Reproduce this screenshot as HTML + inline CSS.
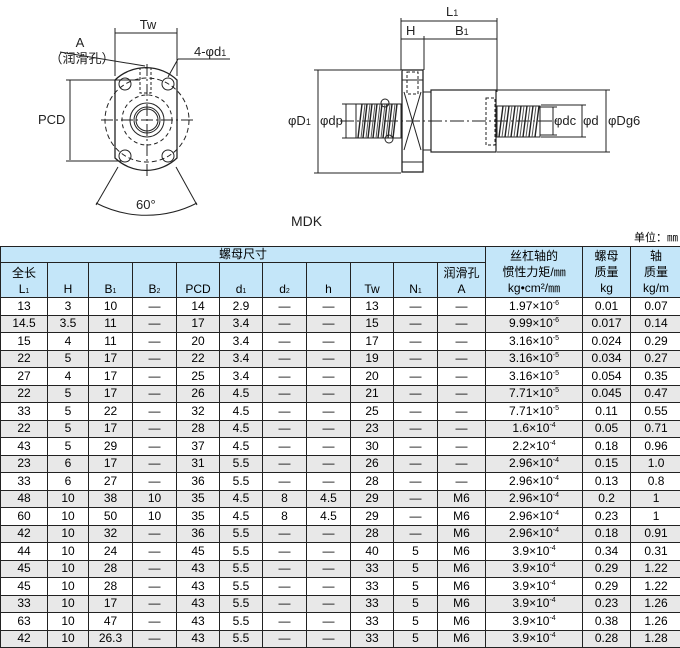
<!DOCTYPE html>
<html><head><meta charset="utf-8"><style>
body{margin:0;width:680px;height:647px;background:#fff;position:relative;overflow:hidden;font-family:"Liberation Sans","Noto Sans CJK SC",sans-serif;}
svg{position:absolute;left:0;top:0;}
#unit{position:absolute;right:2px;top:229px;font-size:11px;}
table{position:absolute;left:0;top:246px;border-collapse:collapse;table-layout:fixed;width:681px;font-size:12px;font-family:"Liberation Sans","Noto Sans CJK SC",sans-serif;}
td{border:1px solid #222;text-align:center;padding:0;height:16.5px;line-height:15px;white-space:nowrap;overflow:hidden;}
thead td{background:#c4e6f9;}
tbody tr:nth-child(even) td{background:#e8e8e8;}
.h2 td{vertical-align:bottom;height:34px;line-height:16px;}
sup{font-size:7px;vertical-align:5px;line-height:0}
sub{font-size:7px;vertical-align:0;line-height:0}
</style></head><body>
<svg width="680" height="240" viewBox="0 0 680 240" font-family="Liberation Sans, sans-serif" font-size="13">
<g stroke="#222" fill="none" stroke-width="1">
<line x1="115" y1="33" x2="177" y2="33"/><line x1="115" y1="28" x2="115" y2="76"/><line x1="177" y1="28" x2="177" y2="76"/>
<path d="M115 80 A45 45 0 0 1 177 80 L177 158 A45 45 0 0 1 115 158 Z" stroke-width="1.3"/>
<circle cx="147" cy="120" r="42" stroke-dasharray="5,3"/>
<circle cx="147" cy="120" r="25" stroke-dasharray="4,3"/>
<circle cx="147" cy="120" r="17"/><circle cx="147" cy="120" r="13"/><circle cx="147" cy="120" r="11"/>
<circle cx="125" cy="84" r="6"/><circle cx="168" cy="84" r="6"/><circle cx="125" cy="156" r="6"/><circle cx="168" cy="156" r="6"/>
<rect x="140" y="68" width="11" height="25" stroke-dasharray="3,2"/>
<line x1="101" y1="120" x2="193" y2="120" stroke-dasharray="12,3,2,3"/><line x1="147" y1="64" x2="147" y2="176" stroke-dasharray="12,3,2,3"/>
<line x1="70" y1="80" x2="70" y2="160"/><line x1="66" y1="80" x2="140" y2="80"/><line x1="66" y1="161" x2="122" y2="161"/>
<line x1="60" y1="52" x2="145" y2="66"/><line x1="178" y1="59" x2="168" y2="77"/><line x1="178" y1="59" x2="230" y2="59"/>
<line x1="118" y1="167" x2="96" y2="205"/><line x1="176" y1="167" x2="197" y2="205"/>
<path d="M96 203 A110 110 0 0 0 197 203"/>
<line x1="401" y1="21" x2="497" y2="21"/><line x1="401" y1="39" x2="497" y2="39"/>
<line x1="401" y1="18" x2="401" y2="70"/><line x1="497" y1="18" x2="497" y2="92"/><line x1="424" y1="36" x2="424" y2="70"/>
<line x1="318" y1="70" x2="318" y2="173"/><line x1="314" y1="70" x2="401" y2="70"/><line x1="314" y1="173" x2="401" y2="173"/>
<line x1="346" y1="104" x2="346" y2="138"/><line x1="342" y1="104" x2="360" y2="104"/><line x1="342" y1="138" x2="360" y2="138"/>
<rect x="402" y="70" width="21" height="102" stroke-width="1.3"/>
<line x1="402" y1="80" x2="423" y2="80"/><line x1="402" y1="162" x2="423" y2="162"/>
<path d="M404 92 L421 150 M421 92 L404 150"/>
<rect x="407" y="72" width="11" height="22" stroke-dasharray="3,2"/>
<rect x="423" y="92" width="8" height="58"/>
<rect x="431" y="90" width="65" height="62" stroke-width="1.2"/>
<rect x="486" y="98" width="9" height="47" stroke-dasharray="3,2"/>
<line x1="497" y1="90" x2="610" y2="90"/><line x1="497" y1="152" x2="610" y2="152"/>
<line x1="606" y1="90" x2="606" y2="152"/>
<line x1="553" y1="107" x2="553" y2="135"/><line x1="540" y1="107" x2="557" y2="107"/><line x1="540" y1="135" x2="557" y2="135"/>
<line x1="582" y1="105" x2="582" y2="137"/><line x1="541" y1="105" x2="586" y2="105"/><line x1="541" y1="137" x2="586" y2="137"/>
<line x1="340" y1="121" x2="560" y2="121" stroke-dasharray="14,3,2,3"/>
<rect x="356" y="104" width="45" height="34"/>
<path d="M358 138 l4 -34 M363 138 l4 -34 M368 138 l4 -34 M373 138 l4 -34 M378 138 l4 -34 M383 138 l4 -34 M388 138 l4 -34 M393 138 l4 -34" stroke-width="1.4"/>
<path d="M361 138 l4 -34 M366 138 l4 -34 M371 138 l4 -34 M376 138 l4 -34 M381 138 l4 -34 M386 138 l4 -34 M391 138 l4 -34" stroke="#555"/>
<circle cx="385" cy="103" r="4"/><circle cx="389" cy="139" r="4"/>
<rect x="497" y="106" width="43" height="31"/>
<path d="M499 137 l4 -31 M505 137 l4 -31 M511 137 l4 -31 M517 137 l4 -31 M523 137 l4 -31 M529 137 l4 -31 M535 137 l4 -31" stroke-width="1.4"/>
<path d="M502 137 l4 -31 M508 137 l4 -31 M514 137 l4 -31 M520 137 l4 -31 M526 137 l4 -31 M532 137 l4 -31" stroke="#555"/>
</g>
<g fill="#222">
<text x="148" y="29" text-anchor="middle">Tw</text>
<text x="80" y="47" text-anchor="middle">A</text>
<text x="82" y="63" text-anchor="middle" font-family="Liberation Sans, Noto Sans CJK SC, sans-serif">（润滑孔）</text>
<text x="194" y="56">4-φd<tspan font-size="9">1</tspan></text>
<text x="38" y="124">PCD</text>
<text x="136" y="209">60°</text>
<text x="446" y="16">L<tspan font-size="9">1</tspan></text>
<text x="406" y="35">H</text>
<text x="455" y="35">B<tspan font-size="9">1</tspan></text>
<text x="288" y="125">φD<tspan font-size="9">1</tspan></text>
<text x="320" y="125">φdp</text>
<text x="554" y="125">φdc</text>
<text x="583" y="125">φd</text>
<text x="608" y="125">φDg6</text>
<text x="291" y="226" font-size="14">MDK</text>
</g>
</svg>
<div id="unit">单位：㎜</div>
<table>
<colgroup><col style="width:47px"><col style="width:41px"><col style="width:44px"><col style="width:44px"><col style="width:43px"><col style="width:43px"><col style="width:44px"><col style="width:44px"><col style="width:43px"><col style="width:44px"><col style="width:48px"><col style="width:97px"><col style="width:48px"><col style="width:51px"></colgroup>
<thead>
<tr><td colspan="11" style="height:15px">螺母尺寸</td><td rowspan="2" style="line-height:16px">丝杠轴的<br>惯性力矩/㎜<br>kg•cm²/㎜</td><td rowspan="2" style="line-height:16px">螺母<br>质量<br>kg</td><td rowspan="2" style="line-height:16px">轴<br>质量<br>kg/m</td></tr>
<tr class="h2"><td>全长<br>L<sub>1</sub></td><td>H</td><td>B<sub>1</sub></td><td>B<sub>2</sub></td><td>PCD</td><td>d<sub>1</sub></td><td>d<sub>2</sub></td><td>h</td><td>Tw</td><td>N<sub>1</sub></td><td>润滑孔<br>A</td></tr>
</thead>
<tbody>
<tr><td>13</td><td>3</td><td>10</td><td>—</td><td>14</td><td>2.9</td><td>—</td><td>—</td><td>13</td><td>—</td><td>—</td><td>1.97×10<sup>-6</sup></td><td>0.01</td><td>0.07</td></tr>
<tr><td>14.5</td><td>3.5</td><td>11</td><td>—</td><td>17</td><td>3.4</td><td>—</td><td>—</td><td>15</td><td>—</td><td>—</td><td>9.99×10<sup>-6</sup></td><td>0.017</td><td>0.14</td></tr>
<tr><td>15</td><td>4</td><td>11</td><td>—</td><td>20</td><td>3.4</td><td>—</td><td>—</td><td>17</td><td>—</td><td>—</td><td>3.16×10<sup>-5</sup></td><td>0.024</td><td>0.29</td></tr>
<tr><td>22</td><td>5</td><td>17</td><td>—</td><td>22</td><td>3.4</td><td>—</td><td>—</td><td>19</td><td>—</td><td>—</td><td>3.16×10<sup>-5</sup></td><td>0.034</td><td>0.27</td></tr>
<tr><td>27</td><td>4</td><td>17</td><td>—</td><td>25</td><td>3.4</td><td>—</td><td>—</td><td>20</td><td>—</td><td>—</td><td>3.16×10<sup>-5</sup></td><td>0.054</td><td>0.35</td></tr>
<tr><td>22</td><td>5</td><td>17</td><td>—</td><td>26</td><td>4.5</td><td>—</td><td>—</td><td>21</td><td>—</td><td>—</td><td>7.71×10<sup>-5</sup></td><td>0.045</td><td>0.47</td></tr>
<tr><td>33</td><td>5</td><td>22</td><td>—</td><td>32</td><td>4.5</td><td>—</td><td>—</td><td>25</td><td>—</td><td>—</td><td>7.71×10<sup>-5</sup></td><td>0.11</td><td>0.55</td></tr>
<tr><td>22</td><td>5</td><td>17</td><td>—</td><td>28</td><td>4.5</td><td>—</td><td>—</td><td>23</td><td>—</td><td>—</td><td>1.6×10<sup>-4</sup></td><td>0.05</td><td>0.71</td></tr>
<tr><td>43</td><td>5</td><td>29</td><td>—</td><td>37</td><td>4.5</td><td>—</td><td>—</td><td>30</td><td>—</td><td>—</td><td>2.2×10<sup>-4</sup></td><td>0.18</td><td>0.96</td></tr>
<tr><td>23</td><td>6</td><td>17</td><td>—</td><td>31</td><td>5.5</td><td>—</td><td>—</td><td>26</td><td>—</td><td>—</td><td>2.96×10<sup>-4</sup></td><td>0.15</td><td>1.0</td></tr>
<tr><td>33</td><td>6</td><td>27</td><td>—</td><td>36</td><td>5.5</td><td>—</td><td>—</td><td>28</td><td>—</td><td>—</td><td>2.96×10<sup>-4</sup></td><td>0.13</td><td>0.8</td></tr>
<tr><td>48</td><td>10</td><td>38</td><td>10</td><td>35</td><td>4.5</td><td>8</td><td>4.5</td><td>29</td><td>—</td><td>M6</td><td>2.96×10<sup>-4</sup></td><td>0.2</td><td>1</td></tr>
<tr><td>60</td><td>10</td><td>50</td><td>10</td><td>35</td><td>4.5</td><td>8</td><td>4.5</td><td>29</td><td>—</td><td>M6</td><td>2.96×10<sup>-4</sup></td><td>0.23</td><td>1</td></tr>
<tr><td>42</td><td>10</td><td>32</td><td>—</td><td>36</td><td>5.5</td><td>—</td><td>—</td><td>28</td><td>—</td><td>M6</td><td>2.96×10<sup>-4</sup></td><td>0.18</td><td>0.91</td></tr>
<tr><td>44</td><td>10</td><td>24</td><td>—</td><td>45</td><td>5.5</td><td>—</td><td>—</td><td>40</td><td>5</td><td>M6</td><td>3.9×10<sup>-4</sup></td><td>0.34</td><td>0.31</td></tr>
<tr><td>45</td><td>10</td><td>28</td><td>—</td><td>43</td><td>5.5</td><td>—</td><td>—</td><td>33</td><td>5</td><td>M6</td><td>3.9×10<sup>-4</sup></td><td>0.29</td><td>1.22</td></tr>
<tr><td>45</td><td>10</td><td>28</td><td>—</td><td>43</td><td>5.5</td><td>—</td><td>—</td><td>33</td><td>5</td><td>M6</td><td>3.9×10<sup>-4</sup></td><td>0.29</td><td>1.22</td></tr>
<tr><td>33</td><td>10</td><td>17</td><td>—</td><td>43</td><td>5.5</td><td>—</td><td>—</td><td>33</td><td>5</td><td>M6</td><td>3.9×10<sup>-4</sup></td><td>0.23</td><td>1.26</td></tr>
<tr><td>63</td><td>10</td><td>47</td><td>—</td><td>43</td><td>5.5</td><td>—</td><td>—</td><td>33</td><td>5</td><td>M6</td><td>3.9×10<sup>-4</sup></td><td>0.38</td><td>1.26</td></tr>
<tr><td>42</td><td>10</td><td>26.3</td><td>—</td><td>43</td><td>5.5</td><td>—</td><td>—</td><td>33</td><td>5</td><td>M6</td><td>3.9×10<sup>-4</sup></td><td>0.28</td><td>1.28</td></tr>
</tbody>
</table>
</body></html>
